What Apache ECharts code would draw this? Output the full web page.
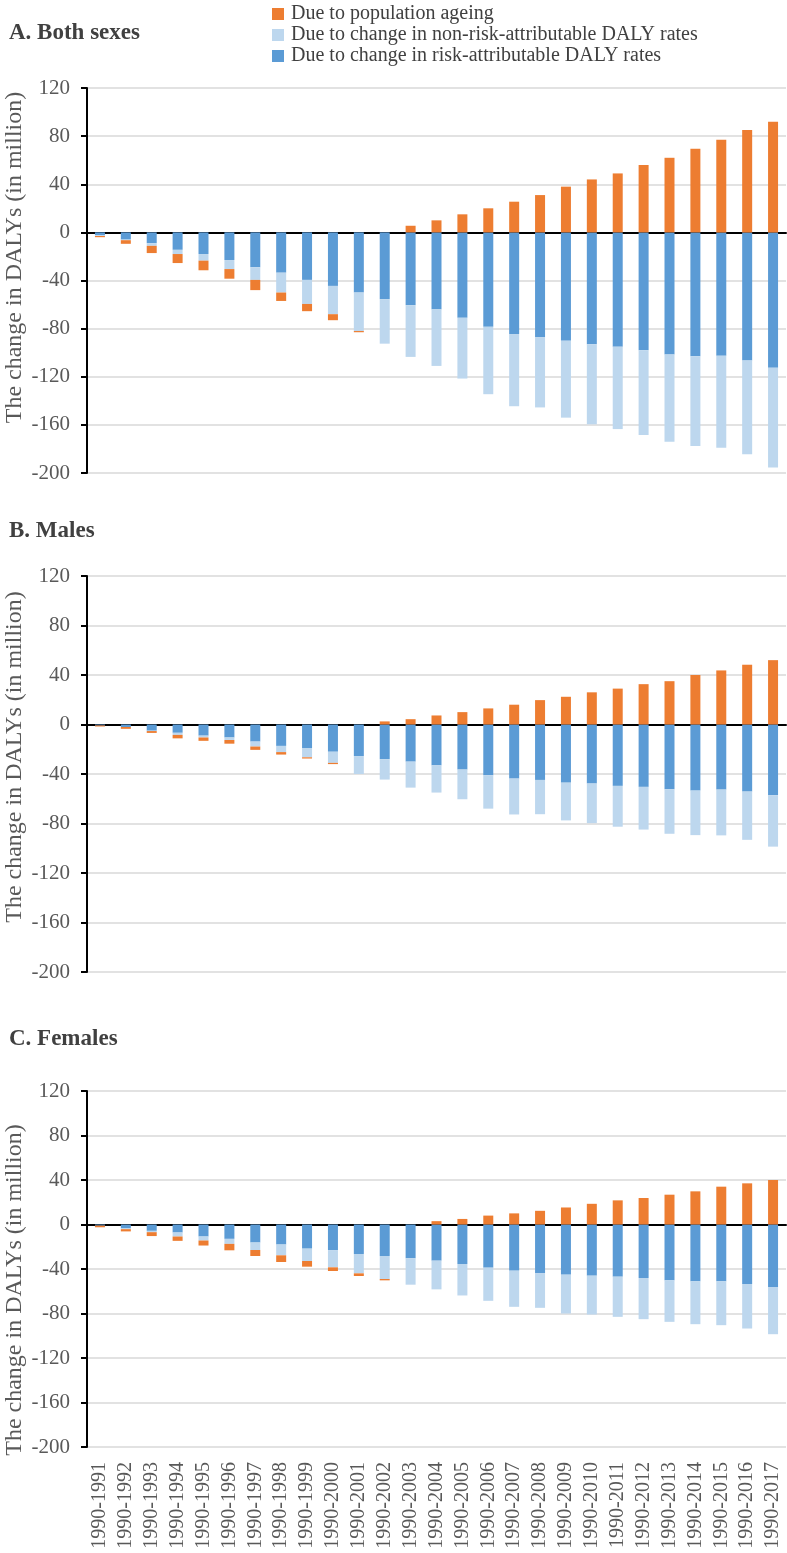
<!DOCTYPE html>
<html>
<head>
<meta charset="utf-8">
<script src="https://cdn.jsdelivr.net/npm/echarts@6/dist/echarts.min.js"></script>
<style>
html,body{margin:0;padding:0;background:#fff;}
#chart{width:787px;height:1553px;}
</style>
</head>
<body>
<div id="chart"></div>
<script>
var categories = ['1990-1991','1990-1992','1990-1993','1990-1994','1990-1995','1990-1996','1990-1997','1990-1998','1990-1999','1990-2000','1990-2001','1990-2002','1990-2003','1990-2004','1990-2005','1990-2006','1990-2007','1990-2008','1990-2009','1990-2010','1990-2011','1990-2012','1990-2013','1990-2014','1990-2015','1990-2016','1990-2017'];
var yTicks = {min: -200, max: 120, interval: 40};

var seriesNames = ['Due to population ageing', 'Due to change in non-risk-attributable DALY rates', 'Due to change in risk-attributable DALY rates'];
var panelTitles = ['A. Both sexes', 'B. Males', 'C. Females'];
var yAxisName = 'The change in DALYs (in million)';

// Panel A: Both sexes
var bothRisk    = [-2.5,-6,-9,-14.5,-18,-23,-29,-33.5,-39.5,-44.5,-50,-55.5,-60.5,-64,-71,-78.5,-84.5,-87,-90,-93,-95,-98,-101.5,-103,-102.5,-106.5,-112.5];
var bothNonRisk = [-0.5,-0.5,-2.2,-3.5,-5.5,-7.5,-10.5,-16.5,-20,-23.5,-32,-37,-43,-47,-50.5,-56,-60,-58.5,-64,-66.5,-68.5,-70.5,-72.5,-74.5,-76.5,-78,-83];
var bothAgeing  = [-1,-3,-6,-7.5,-8,-8,-8.5,-7,-6,-5,-1,0,5.5,10,15,20,25.5,31,38,44,49,56,62,69.5,77,85,92];

// Panel B: Males
var maleRisk    = [-0.8,-2,-5,-6.7,-9,-10.5,-13.8,-17.3,-19,-22,-25.5,-28,-30,-33,-36.4,-41,-43.7,-44.8,-47,-47.7,-49.6,-50.4,-52.3,-53.4,-52.6,-54.2,-57.2];
var maleNonRisk = [0,0,-0.3,-1.7,-1.5,-2,-4,-5,-7.5,-9,-14.5,-16.5,-21,-22,-24,-27,-29,-27.7,-30.5,-32,-33,-34.5,-36,-36,-37,-39,-41.5];
var maleAgeing  = [-0.8,-1.5,-1.5,-2.8,-2.7,-3,-2.7,-2,-1,-1,0,2.5,4.3,7.3,10,13,16,19.7,22.4,26,29,32.6,35,40,43.7,48.3,52];

// Panel C: Females
var femaleRisk    = [-1,-3.5,-5.7,-7.2,-10.8,-12.9,-16.2,-18,-21.7,-23.2,-26.5,-28.3,-30.4,-32.5,-35.5,-38.8,-41.5,-43.9,-45.1,-46,-46.9,-48.1,-50.2,-51.1,-51.1,-53.5,-56.2];
var femaleNonRisk = [0,-0.7,-1.2,-3.6,-3.6,-4.5,-6.7,-9.7,-11.1,-15.3,-17.4,-20.7,-23.7,-25.8,-28.3,-29.8,-32.5,-31,-34.9,-34.9,-36.1,-37,-37.3,-38.5,-39.4,-40,-42.4];
var femaleAgeing  = [-1.5,-2,-3.5,-3.9,-4.5,-5.8,-5.4,-6,-5.1,-3.3,-2.4,-1.2,0,3,5,8,10,12.3,15.3,18.6,21.7,23.8,26.8,29.8,34,37,40];

var panels = [
  {risk: bothRisk, nonRisk: bothNonRisk, ageing: bothAgeing},
  {risk: maleRisk, nonRisk: maleNonRisk, ageing: maleAgeing},
  {risk: femaleRisk, nonRisk: femaleNonRisk, ageing: femaleAgeing}
];

var colors = {ageing: '#ED7D31', nonRisk: '#BDD7EE', risk: '#5B9BD5'};
var FONT = '"Liberation Serif", "Times New Roman", serif';
var gridPos = [
  {top: 88, height: 385},
  {top: 576, height: 396},
  {top: 1091, height: 356}
];
var titleTops = [17, 515, 1023];
// shift of the rotated axis name along the axis (padding left = up, right = down)
var namePads = [[0, 0, 0, 46], [0, 0, 0, 34], [0, 42, 0, 0]];

var grids = [], xAxes = [], yAxes = [], series = [], titles = [];
for (var i = 0; i < 3; i++) {
  grids.push({left: 87, width: 699, top: gridPos[i].top, height: gridPos[i].height, containLabel: false, outerBoundsMode: 'none'});
  titles.push({text: panelTitles[i], left: 4, top: titleTops[i],
    textStyle: {fontFamily: FONT, fontWeight: 'bold', fontSize: 23, color: '#404040'}});
  xAxes.push({
    type: 'category', gridIndex: i, data: categories, position: 'bottom',
    axisLine: {show: true, onZero: true, lineStyle: {color: '#000', width: 2}},
    axisTick: {show: false}, axisLabel: {show: false}, splitLine: {show: false}
  });
  yAxes.push({
    type: 'value', gridIndex: i, min: yTicks.min, max: yTicks.max, interval: yTicks.interval,
    name: yAxisName, nameLocation: 'middle', nameGap: 60, nameMoveOverlap: false,
    nameTextStyle: {fontFamily: FONT, fontSize: 24, color: '#595959', padding: namePads[i]},
    axisLine: {show: true, onZero: false, lineStyle: {color: '#000', width: 2}},
    axisTick: {show: true, length: 6, lineStyle: {color: '#000', width: 2}},
    axisLabel: {fontFamily: FONT, fontSize: 21, color: '#595959', margin: 17},
    splitLine: {show: true, lineStyle: {color: '#d9d9d9', width: 1.5}}
  });
  var p = panels[i];
  var stackName = 'stack' + i;
  series.push({name: seriesNames[2], type: 'bar', xAxisIndex: i, yAxisIndex: i, stack: stackName, barWidth: 10, data: p.risk, itemStyle: {color: colors.risk}});
  series.push({name: seriesNames[1], type: 'bar', xAxisIndex: i, yAxisIndex: i, stack: stackName, barWidth: 10, data: p.nonRisk, itemStyle: {color: colors.nonRisk}});
  series.push({name: seriesNames[0], type: 'bar', xAxisIndex: i, yAxisIndex: i, stack: stackName, barWidth: 10, data: p.ageing, itemStyle: {color: colors.ageing}});
}
// label axis at the bottom of panel C
xAxes.push({
  type: 'category', gridIndex: 2, data: categories, position: 'bottom',
  axisLine: {show: false, onZero: false}, axisTick: {show: false},
  axisLabel: {show: true, interval: 0, rotate: 90, fontFamily: FONT, fontSize: 20, color: '#595959', margin: 15},
  splitLine: {show: false}
});

var chart = echarts.init(document.getElementById('chart'), null, {renderer: 'canvas'});
chart.setOption({
  animation: false,
  backgroundColor: '#fff',
  title: titles,
  legend: {
    data: seriesNames, orient: 'vertical', left: 267, top: -1, itemWidth: 12, itemHeight: 12, itemGap: 1,
    icon: 'rect', selectedMode: false,
    textStyle: {fontFamily: FONT, fontSize: 20, lineHeight: 20, color: '#404040', padding: [0, 0, 0, 2]}
  },
  grid: grids,
  xAxis: xAxes,
  yAxis: yAxes,
  series: series
});
</script>
</body>
</html>
